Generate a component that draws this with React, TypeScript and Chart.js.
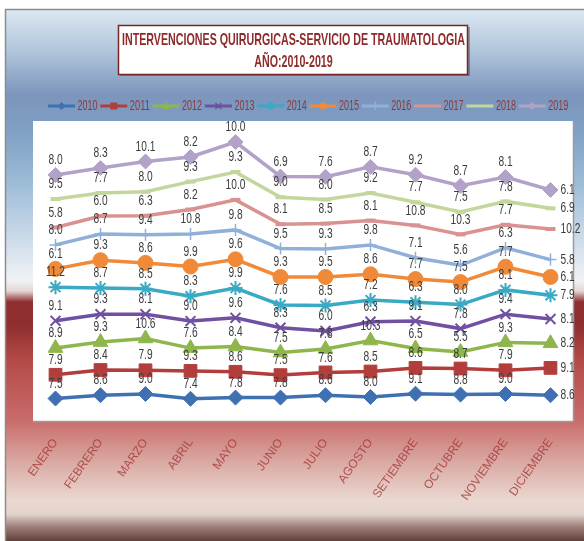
import { useEffect, useRef } from 'react';
import { Chart, registerables } from 'chart.js';

Chart.register(...registerables);

// ---------- data ----------
const months = ['ENERO', 'FEBRERO', 'MARZO', 'ABRIL', 'MAYO', 'JUNIO', 'JULIO', 'AGOSTO', 'SETIEMBRE', 'OCTUBRE', 'NOVIEMBRE', 'DICIEMBRE'];
const years = ['2010', '2011', '2012', '2013', '2014', '2015', '2016', '2017', '2018', '2019'];

const v2010 = [7.5, 8.6, 9.0, 7.4, 7.8, 7.8, 8.6, 8.0, 9.1, 8.8, 9.0, 8.6];
const v2011 = [7.9, 8.4, 7.9, 9.3, 8.6, 7.5, 7.6, 8.5, 8.6, 8.7, 7.9, 9.1];
const v2012 = [8.9, 9.3, 10.6, 7.6, 8.4, 7.5, 7.8, 10.3, 6.5, 5.5, 9.3, 8.2];
const v2013 = [9.1, 9.3, 8.1, 9.0, 9.6, 8.3, 6.0, 6.3, 9.1, 7.8, 9.4, 8.1];
const v2014 = [11.2, 8.7, 8.5, 8.3, 9.9, 7.6, 8.5, 7.2, 6.3, 8.0, 8.1, 7.9];
const v2015 = [6.1, 9.3, 8.6, 9.9, 9.6, 9.3, 9.5, 8.6, 7.7, 7.5, 7.7, 6.1];
const v2016 = [8.0, 8.7, 9.4, 10.8, 9.8, 9.5, 9.3, 9.8, 7.1, 5.6, 6.3, 5.8];
const v2017 = [5.8, 6.0, 6.3, 8.2, 10.0, 8.1, 8.5, 8.1, 10.8, 10.3, 7.7, 10.2];
const v2018 = [9.5, 7.7, 8.0, 9.3, 9.3, 9.0, 8.0, 9.2, 7.7, 7.5, 7.8, 6.9];
const v2019 = [8.0, 8.3, 10.1, 8.2, 10.0, 6.9, 7.6, 8.7, 9.2, 8.7, 8.1, 6.1];

const seriesValues = [v2010, v2011, v2012, v2013, v2014, v2015, v2016, v2017, v2018, v2019];

const titleLines = ['INTERVENCIONES QUIRURGICAS-SERVICIO DE TRAUMATOLOGIA', 'AÑO:2010-2019'];

// ---------- styles ----------
const colors = ['#3f70b2', '#b23e3c', '#8fb64c', '#7050a0', '#3aa9c4', '#f08a38', '#90b0da', '#da9290', '#c3d69b', '#b3a2c7'];
const markers = ['rectRot', 'rect', 'triangle', 'crossRot', 'star', 'circle', 'cross', 'line', 'line', 'rectRot'];
const markerRadius = [7.5, 9, 8.5, 7, 7, 7.5, 6, 5, 5, 7.5];
const markerBorder = [1, 1, 1, 2, 2, 1, 1.5, 4, 4, 1];

const FONT = '"Liberation Sans", Arial, sans-serif';

function drawScaled(ctx: CanvasRenderingContext2D, text: string, x: number, y: number, sx: number, align: CanvasTextAlign) {
  ctx.save();
  ctx.translate(x, y);
  ctx.scale(sx, 1);
  ctx.textAlign = align;
  ctx.textBaseline = 'middle';
  ctx.fillText(text, 0, 0);
  ctx.restore();
}

function drawIcon(g: CanvasRenderingContext2D, style: string, color: string, x0: number, y: number) {
  g.save();
  g.strokeStyle = color;
  g.fillStyle = color;
  g.lineWidth = 3;
  g.beginPath();
  g.moveTo(x0, y);
  g.lineTo(x0 + 27, y);
  g.stroke();
  const x = x0 + 13.5, r = 4;
  g.lineWidth = 1.5;
  g.beginPath();
  switch (style) {
    case 'rectRot':
      g.moveTo(x, y - r); g.lineTo(x + r, y); g.lineTo(x, y + r); g.lineTo(x - r, y); g.closePath(); g.fill();
      break;
    case 'rect':
      g.fillRect(x - 3.5, y - 3.5, 7, 7);
      break;
    case 'triangle':
      g.moveTo(x, y - r); g.lineTo(x + r, y + 3); g.lineTo(x - r, y + 3); g.closePath(); g.fill();
      break;
    case 'crossRot':
      g.moveTo(x - 3, y - 3); g.lineTo(x + 3, y + 3); g.moveTo(x + 3, y - 3); g.lineTo(x - 3, y + 3); g.stroke();
      break;
    case 'star':
      g.moveTo(x - 3, y - 3); g.lineTo(x + 3, y + 3); g.moveTo(x + 3, y - 3); g.lineTo(x - 3, y + 3);
      g.moveTo(x, y - 4); g.lineTo(x, y + 4); g.stroke();
      break;
    case 'circle':
      g.arc(x, y, 3.5, 0, Math.PI * 2); g.fill();
      break;
    case 'cross':
      g.moveTo(x, y - 4); g.lineTo(x, y + 4); g.stroke();
      break;
    default:
      break;
  }
  g.restore();
}

const backgroundPlugin = {
  id: 'bgPlugin',
  beforeDraw(chart: any) {
    const ctx: CanvasRenderingContext2D = chart.ctx;
    const W = chart.width, H = chart.height;
    ctx.save();
    ctx.fillStyle = '#ffffff';
    ctx.fillRect(0, 0, W, H);
    const top = 9, left = 5;
    const grad = ctx.createLinearGradient(0, top, 0, H);
    const span = H - top;
    const stop = (y: number, c: string) => grad.addColorStop(Math.min(1, Math.max(0, (y - top) / span)), c);
    stop(9, '#dce8f2');
    stop(50, '#b2c6dc');
    stop(95, '#7c95bd');
    stop(130, '#7fa0c4');
    stop(180, '#9bbad6');
    stop(240, '#cddcea');
    stop(280, '#f0f3f5');
    stop(291, '#e4d6d6');
    stop(302, '#8e2e2e');
    stop(325, '#8e2e2e');
    stop(360, '#b44a48');
    stop(420, '#c86c6a');
    stop(460, '#d9a6a0');
    stop(500, '#ead8d0');
    stop(514, '#e4d4ce');
    stop(527, '#9c7e78');
    stop(541, '#62403a');
    ctx.fillStyle = grad;
    ctx.fillRect(left, top, W - left, H - top);
    ctx.strokeStyle = '#8c8c8c';
    ctx.lineWidth = 1.5;
    ctx.beginPath();
    ctx.moveTo(left + 0.5, H);
    ctx.lineTo(left + 0.5, top + 0.5);
    ctx.lineTo(W, top + 0.5);
    ctx.stroke();

    // plot area
    const a = chart.chartArea;
    ctx.fillStyle = '#ffffff';
    ctx.fillRect(a.left, a.top, a.right - a.left, a.bottom - a.top);
    ctx.strokeStyle = '#9a9a9a';
    ctx.lineWidth = 1.5;
    ctx.beginPath();
    ctx.moveTo(a.left, a.bottom + 0.5);
    ctx.lineTo(a.right + 0.5, a.bottom + 0.5);
    ctx.lineTo(a.right + 0.5, a.top);
    ctx.stroke();

    // title box
    ctx.fillStyle = 'rgba(60,20,20,0.35)';
    ctx.fillRect(120, 27, 350, 49);
    ctx.fillStyle = '#ffffff';
    ctx.fillRect(118, 25, 350, 50);
    ctx.strokeStyle = '#7a2424';
    ctx.lineWidth = 1.5;
    ctx.strokeRect(118.5, 25.5, 349, 49);

    // title text
    ctx.fillStyle = '#8e2b2b';
    ctx.font = 'bold 17px ' + FONT;
    const sx = 343 / ctx.measureText(titleLines[0]).width;
    drawScaled(ctx, titleLines[0], 293.5, 40, sx, 'center');
    drawScaled(ctx, titleLines[1], 293.5, 62, sx, 'center');

    // legend
    ctx.font = '14px ' + FONT;
    ctx.fillStyle = '#8a3a3a';
    const legendY = 106;
    chart.data.datasets.forEach((ds: any, i: number) => {
      const x0 = 48 + i * 52.3;
      drawIcon(ctx, markers[i], colors[i], x0, legendY);
      const tw = ctx.measureText(ds.label).width;
      ctx.fillStyle = '#8a3a3a';
      drawScaled(ctx, ds.label, x0 + 29.5, legendY, 20 / tw, 'left');
    });
    ctx.restore();
  },
};

const labelPlugin = {
  id: 'valueLabels',
  afterDatasetsDraw(chart: any) {
    const ctx: CanvasRenderingContext2D = chart.ctx;
    ctx.save();
    ctx.font = '15px ' + FONT;
    ctx.fillStyle = '#3c3c3c';
    chart.data.datasets.forEach((ds: any, di: number) => {
      const meta = chart.getDatasetMeta(di);
      const n = meta.data.length;
      meta.data.forEach((pt: any, i: number) => {
        const txt = Number(ds.data[i]).toFixed(1);
        if (i === n - 1) {
          drawScaled(ctx, txt, pt.x + 10, pt.y, 0.68, 'left');
        } else {
          drawScaled(ctx, txt, pt.x, pt.y - 15, 0.68, 'center');
        }
      });
    });
    ctx.restore();
  },
};

export default function App() {
  const ref = useRef<HTMLCanvasElement | null>(null);

  useEffect(() => {
    if (!ref.current) return;
    const chart = new Chart(ref.current, {
      type: 'line',
      data: {
        labels: months,
        datasets: years.map((y, i) => ({
          label: y,
          data: seriesValues[i],
          borderColor: colors[i],
          backgroundColor: colors[i],
          borderWidth: 3.5,
          pointStyle: markers[i] as any,
          pointRadius: markerRadius[i],
          pointBorderWidth: markerBorder[i],
          pointBackgroundColor: colors[i],
          pointBorderColor: colors[i],
          fill: false,
          tension: 0,
        })),
      },
      options: {
        responsive: false,
        animation: false,
        layout: { padding: { left: 33, right: 11, top: 121, bottom: 0 } },
        plugins: {
          tooltip: { enabled: false },
          title: { display: false },
          legend: { display: false },
        },
        scales: {
          x: {
            offset: true,
            grid: { display: false },
            border: { display: false },
            ticks: {
              autoSkip: false,
              minRotation: 55,
              maxRotation: 55,
              padding: 7,
              color: 'rgba(165,55,55,0.8)',
              font: { family: FONT, size: 12 },
            },
            afterFit: (s: any) => { s.height = 120; },
          },
          y: {
            display: false,
            stacked: true,
            min: 0,
            max: 100,
          },
        },
      },
      plugins: [backgroundPlugin, labelPlugin],
    });
    return () => chart.destroy();
  }, []);

  return (
    <div style={{ position: 'absolute', left: 0, top: 0, width: 584, height: 541 }}>
      <canvas ref={ref} width={584} height={541} style={{ display: 'block' }} />
    </div>
  );
}
